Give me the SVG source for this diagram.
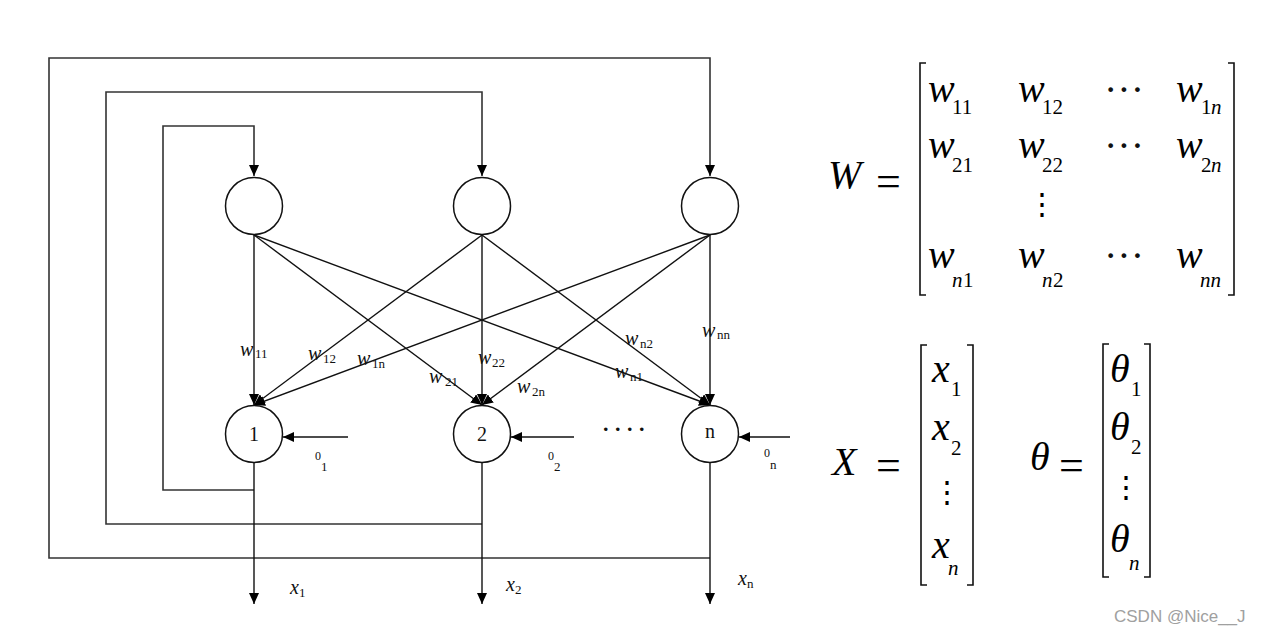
<svg xmlns="http://www.w3.org/2000/svg" width="1266" height="634" viewBox="0 0 1266 634">
<style>
.ln{fill:none;stroke:#111;stroke-width:1.4}
.lp{fill:none;stroke:#333;stroke-width:1.6}
.nd{fill:#fff;stroke:#111;stroke-width:1.5}
.t{font-family:"Liberation Serif",serif;fill:#111}
.wi{font-family:"Liberation Serif",serif;font-style:italic;font-size:20px;fill:#111}
.ws{font-family:"Liberation Serif",serif;font-size:13px;fill:#111}
.th{font-family:"Liberation Serif",serif;font-size:12px;fill:#111}
.m{font-family:"Liberation Serif",serif;font-style:italic;font-size:40px;fill:#000}
.ms{font-family:"Liberation Serif",serif;font-size:21px;fill:#000}
.msi{font-family:"Liberation Serif",serif;font-style:italic;font-size:21px;fill:#000}
.eq{font-family:"Liberation Serif",serif;font-size:44px;fill:#000}
.vd{font-family:"DejaVu Serif",serif;font-size:30px;fill:#000}
.br{fill:none;stroke:#111;stroke-width:1.6}
</style>
<defs>
<marker id="ah" markerUnits="userSpaceOnUse" markerWidth="11" markerHeight="10" refX="11" refY="5" orient="auto">
<path d="M0,0 L11,5 L0,10 z" fill="#000"/>
</marker>
</defs>

<g id="connectors">
<path class="lp" d="M254,490 H163 V126 H254 V176" marker-end="url(#ah)"/>
<path class="lp" d="M482,524 H106 V92 H482 V176" marker-end="url(#ah)"/>
<path class="lp" d="M710,558 H49 V58 H710 V176" marker-end="url(#ah)"/>
<line class="ln" x1="254" y1="235" x2="254" y2="405" marker-end="url(#ah)"/>
<line class="ln" x1="254" y1="235" x2="482" y2="405" marker-end="url(#ah)"/>
<line class="ln" x1="254" y1="235" x2="710" y2="405" marker-end="url(#ah)"/>
<line class="ln" x1="482" y1="235" x2="254" y2="405" marker-end="url(#ah)"/>
<line class="ln" x1="482" y1="235" x2="482" y2="405" marker-end="url(#ah)"/>
<line class="ln" x1="482" y1="235" x2="710" y2="405" marker-end="url(#ah)"/>
<line class="ln" x1="710" y1="235" x2="254" y2="405" marker-end="url(#ah)"/>
<line class="ln" x1="710" y1="235" x2="482" y2="405" marker-end="url(#ah)"/>
<line class="ln" x1="710" y1="235" x2="710" y2="405" marker-end="url(#ah)"/>
<line class="ln" x1="348" y1="437" x2="283" y2="437" marker-end="url(#ah)"/>
<line class="ln" x1="574" y1="437" x2="511" y2="437" marker-end="url(#ah)"/>
<line class="ln" x1="790" y1="437" x2="739" y2="437" marker-end="url(#ah)"/>
<line class="ln" x1="254" y1="462" x2="254" y2="604" marker-end="url(#ah)"/>
<line class="ln" x1="482" y1="462" x2="482" y2="604" marker-end="url(#ah)"/>
<line class="ln" x1="710" y1="462" x2="710" y2="604" marker-end="url(#ah)"/>
<text class="wi" x="240" y="356">w</text><text class="ws" x="255" y="358">11</text>
<text class="wi" x="308" y="360">w</text><text class="ws" x="323" y="363">12</text>
<text class="wi" x="357" y="365">w</text><text class="ws" x="372" y="368">1n</text>
<text class="wi" x="429" y="383">w</text><text class="ws" x="445" y="386">21</text>
<text class="wi" x="478" y="364">w</text><text class="ws" x="492" y="367">22</text>
<text class="wi" x="517" y="393">w</text><text class="ws" x="532" y="396">2n</text>
<text class="wi" x="625" y="345">w</text><text class="ws" x="640" y="348">n2</text>
<text class="wi" x="615" y="378">w</text><text class="ws" x="630" y="381">n1</text>
<text class="wi" x="702" y="337">w</text><text class="ws" x="717" y="339">nn</text>
<text class="th" x="315" y="460">0</text><text class="ws" x="321" y="471">1</text>
<text class="th" x="548" y="460">0</text><text class="ws" x="554" y="471">2</text>
<text class="th" x="764" y="457">0</text><text class="ws" x="770" y="469">n</text>
<text class="wi" x="290" y="594">x</text><text class="ws" x="299" y="597">1</text>
<text class="wi" x="506" y="591">x</text><text class="ws" x="515" y="594">2</text>
<text class="wi" x="738" y="585">x</text><text class="ws" x="747" y="588">n</text>
<text class="t" x="603" y="431" font-size="22" font-weight="bold" letter-spacing="6.5">....</text>
</g>

<g id="top1"><circle class="nd" cx="254" cy="206" r="28.5"/></g>
<g id="top2"><circle class="nd" cx="482" cy="206" r="28.5"/></g>
<g id="top3"><circle class="nd" cx="710" cy="206" r="28.5"/></g>
<g id="node1"><circle class="nd" cx="254" cy="434" r="28.5"/><text class="t" x="254" y="441" font-size="20" text-anchor="middle">1</text></g>
<g id="node2"><circle class="nd" cx="482" cy="434" r="28.5"/><text class="t" x="482" y="441" font-size="20" text-anchor="middle">2</text></g>
<g id="noden"><circle class="nd" cx="710" cy="434" r="28.5"/><text class="t" x="710" y="438" font-size="20" text-anchor="middle">n</text></g>

<g id="matrixW">
<text class="m" x="828" y="188">W</text>
<text class="eq" x="876" y="196">=</text>
<path class="br" d="M926,63 H920 V295 H926" stroke="#1a2040"/>
<path class="br" d="M1228,63 H1234 V295 H1228" stroke="#3a1040"/>
<text class="m" x="928" y="102">w</text><text class="ms" x="952" y="114">11</text>
<text class="m" x="1018" y="102">w</text><text class="ms" x="1042" y="114">12</text>
<text class="t" x="1104" y="103" font-size="40">···</text>
<text class="m" x="1176" y="102">w</text><text class="ms" x="1201" y="114">1</text><text class="msi" x="1211" y="114">n</text>
<text class="m" x="928" y="158">w</text><text class="ms" x="952" y="172">21</text>
<text class="m" x="1018" y="158">w</text><text class="ms" x="1042" y="172">22</text>
<text class="t" x="1104" y="159" font-size="40">···</text>
<text class="m" x="1176" y="158">w</text><text class="ms" x="1201" y="172">2</text><text class="msi" x="1211" y="172">n</text>
<text class="vd" x="1042" y="214" text-anchor="middle">⋮</text>
<text class="m" x="928" y="268">w</text><text class="msi" x="952" y="287">n</text><text class="ms" x="963" y="287">1</text>
<text class="m" x="1018" y="268">w</text><text class="msi" x="1042" y="287">n</text><text class="ms" x="1053" y="287">2</text>
<text class="t" x="1104" y="269" font-size="40">···</text>
<text class="m" x="1176" y="268">w</text><text class="msi" x="1200" y="287">nn</text>
</g>

<g id="matrixX">
<text class="m" x="832" y="475">X</text>
<text class="eq" x="876" y="480">=</text>
<path class="br" d="M927,345 H921 V585 H927" stroke="#203050"/>
<path class="br" d="M967,345 H973 V585 H967"/>
<text class="m" x="932" y="382">x</text><text class="ms" x="951" y="396">1</text>
<text class="m" x="932" y="440">x</text><text class="ms" x="951" y="455">2</text>
<text class="vd" x="947" y="502" text-anchor="middle">⋮</text>
<text class="m" x="932" y="558">x</text><text class="msi" x="948" y="575">n</text>
</g>

<g id="matrixTheta">
<text class="m" x="1030" y="470">θ</text>
<text class="eq" x="1059" y="480">=</text>
<path class="br" d="M1109,344 H1103 V577 H1109" stroke="#101860"/>
<path class="br" d="M1144,344 H1150 V577 H1144"/>
<text class="m" x="1110" y="382">θ</text><text class="ms" x="1131" y="396">1</text>
<text class="m" x="1110" y="440">θ</text><text class="ms" x="1131" y="454">2</text>
<text class="vd" x="1126" y="497" text-anchor="middle">⋮</text>
<text class="m" x="1110" y="552">θ</text><text class="msi" x="1129" y="570">n</text>
</g>

<text x="1114" y="622" font-family="Liberation Sans, sans-serif" font-size="17" fill="#a0a0a0">CSDN @Nice__J</text>
</svg>
